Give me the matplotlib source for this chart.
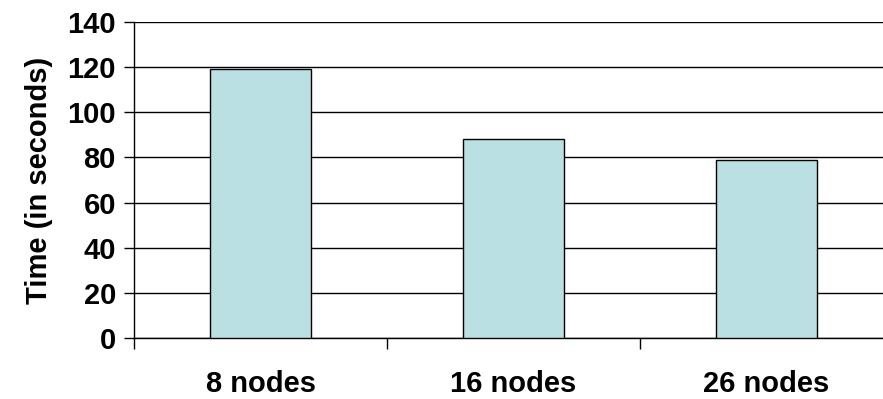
import matplotlib.pyplot as plt
import numpy as np

# chart values
categories = ["8 nodes", "16 nodes", "26 nodes"]
times = [119, 88, 79]
y_ticks = [0, 20, 40, 60, 80, 100, 120, 140]

plt.rcParams["font.family"] = ["Liberation Sans", "DejaVu Sans"]
plt.rcParams["font.weight"] = "bold"

fig = plt.figure(figsize=(8.83, 3.99), dpi=100)
ax = fig.add_axes([134 / 883, 61 / 399, 759 / 883, 316 / 399])

x = np.arange(len(categories))
ax.bar(x, times, width=0.4, color="#BBE0E3", edgecolor="black", linewidth=1, zorder=3)

ax.set_xlim(-0.5, 2.5)
ax.set_ylim(0, 140)
ax.set_yticks(y_ticks)
ax.set_yticklabels([str(v) for v in y_ticks], fontsize=21, fontweight="bold")
ax.yaxis.grid(True, color="black", linewidth=1, zorder=0)

# category ticks sit between the bars
ax.set_xticks([-0.5, 0.5, 1.5, 2.5])
ax.set_xticklabels([])
ax.set_xticks(x, minor=True)
ax.set_xticklabels(categories, minor=True, fontsize=21, fontweight="bold")
ax.tick_params(axis="x", which="minor", length=0, pad=23)
ax.tick_params(axis="x", which="major", length=8, width=1, direction="out")
ax.tick_params(axis="y", length=7, width=1, direction="out", pad=6)

for side in ["top", "right"]:
    ax.spines[side].set_visible(False)
ax.spines["left"].set_linewidth(1)
ax.spines["bottom"].set_linewidth(1)

ax.set_ylabel("Time (in seconds)", fontsize=21, fontweight="bold", labelpad=10)

fig.savefig("out.png", dpi=100)
